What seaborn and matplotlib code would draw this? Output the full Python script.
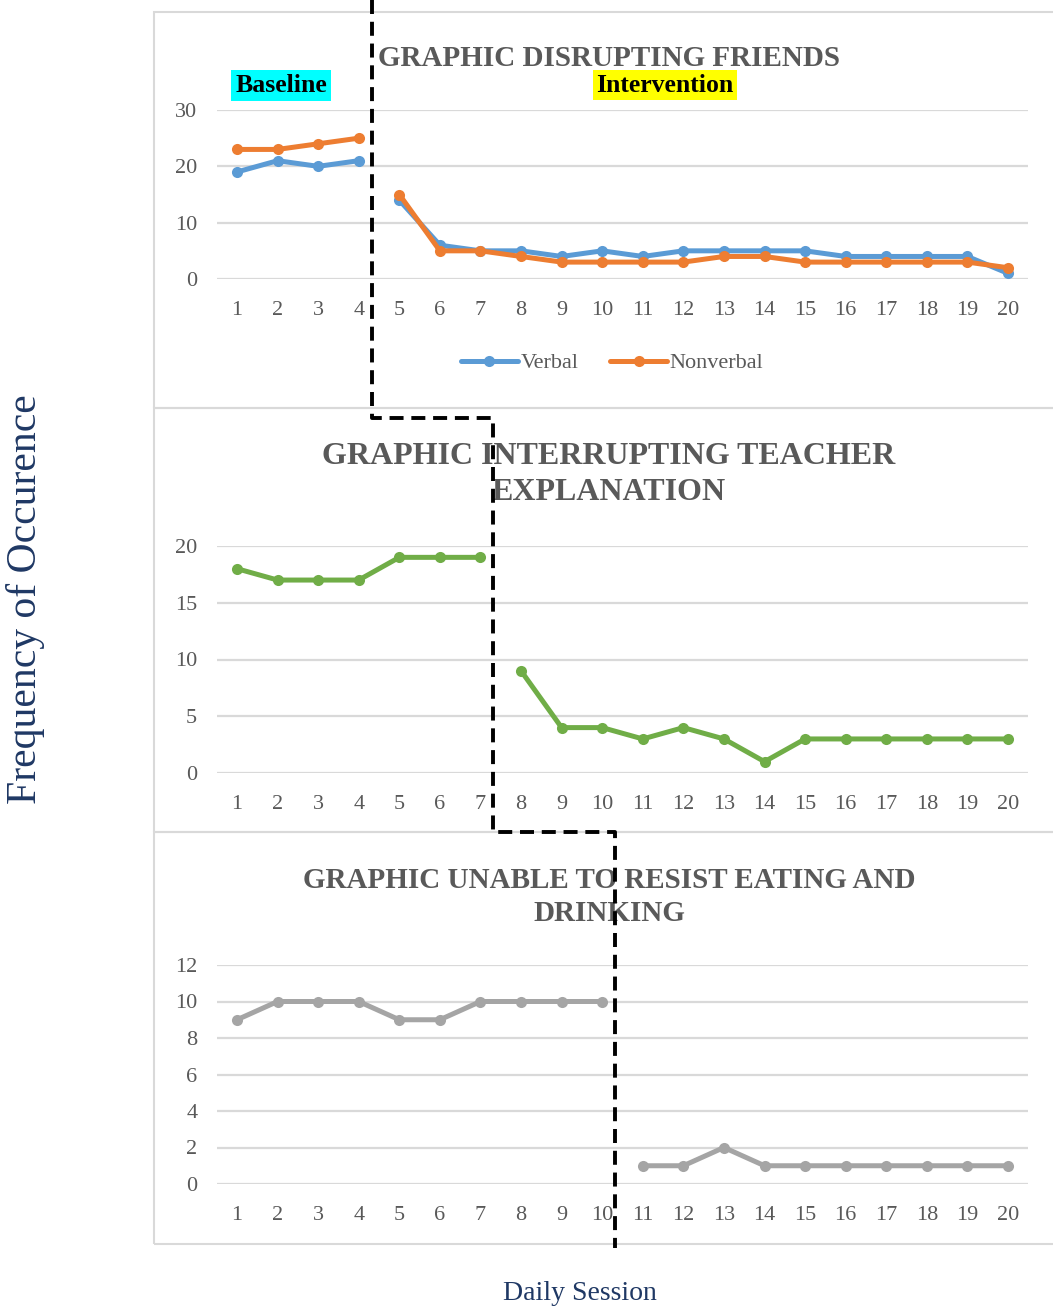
import numpy as np
import pandas as pd
import matplotlib
matplotlib.use("Agg")
import matplotlib.pyplot as plt
from matplotlib.lines import Line2D
from matplotlib.patches import Rectangle
import seaborn as sns

# ---------------- data ----------------
sessions = list(range(1, 21))
verbal = [19, 21, 20, 21, 14, 6, 5, 5, 4, 5, 4, 5, 5, 5, 5, 4, 4, 4, 4, 1]
nonverbal = [23, 23, 24, 25, 15, 5, 5, 4, 3, 3, 3, 3, 4, 4, 3, 3, 3, 3, 3, 2]
interrupting = [18, 17, 17, 17, 19, 19, 19, 9, 4, 4, 3, 4, 3, 1, 3, 3, 3, 3, 3, 3]
eating = [9, 10, 10, 10, 9, 9, 10, 10, 10, 10, 1, 1, 2, 1, 1, 1, 1, 1, 1, 1]
baseline_end = [4, 7, 10]   # last baseline session per panel
titles = ["GRAPHIC DISRUPTING FRIENDS",
          "GRAPHIC INTERRUPTING TEACHER\nEXPLANATION",
          "GRAPHIC UNABLE TO RESIST EATING AND\nDRINKING"]
y_ticks = [[0, 10, 20, 30], [0, 5, 10, 15, 20], [0, 2, 4, 6, 8, 10, 12]]
y_label = "Frequency of Occurence"
x_label = "Daily Session"
phase_labels = ["Baseline", "Intervention"]

C_VERBAL = "#5B9BD5"
C_NONVERBAL = "#ED7D31"
C_GREEN = "#70AD47"
C_GRAY = "#A5A5A5"
TXT = "#595959"
NAVY = "#1F3864"
GRID = "#D9D9D9"


def make_df(series):
    rows = []
    for name, vals, end in series:
        for s, v in zip(sessions, vals):
            rows.append(dict(session=s, value=v, series=name,
                             phase="base" if s <= end else "int"))
    return pd.DataFrame(rows)


sns.set_theme(style="white")
plt.rcParams["font.family"] = ["Liberation Serif", "DejaVu Serif"]

W, H = 1053, 1307
fig = plt.figure(figsize=(W / 100, H / 100), dpi=100)


def fx(px):
    return px / W


def fy(py):
    return 1 - py / H


# panel frames
for top, bot in [(12, 408), (408, 832), (832, 1244)]:
    fig.add_artist(Rectangle((fx(154), fy(bot)), fx(1060) - fx(154), fy(top) - fy(bot),
                             transform=fig.transFigure, fill=False, ec=GRID, lw=1.5))

ax_px = [(110, 279, 30), (546, 773, 20), (965, 1184, 12)]
left, right = 216.7, 1028.3

panel_series = [
    [("Verbal", verbal, baseline_end[0]), ("Nonverbal", nonverbal, baseline_end[0])],
    [("Interrupting", interrupting, baseline_end[1])],
    [("Eating", eating, baseline_end[2])],
]
palettes = [{"Verbal": C_VERBAL, "Nonverbal": C_NONVERBAL},
            {"Interrupting": C_GREEN}, {"Eating": C_GRAY}]

LW = 3.6
MS = 8

axes = []
for i, (tp, bp, ymax) in enumerate(ax_px):
    ax = fig.add_axes([fx(left), fy(bp), fx(right) - fx(left), fy(tp) - fy(bp)])
    df = make_df(panel_series[i])
    sns.lineplot(data=df, x="session", y="value", hue="series", units="phase",
                 estimator=None, palette=palettes[i], marker="o", markersize=MS,
                 markeredgewidth=0, linewidth=LW, legend=False, ax=ax, zorder=3)
    ax.set_xlim(0.5, 20.5)
    ax.set_ylim(0, ymax)
    ax.set_xticks(sessions)
    ax.set_xticklabels([str(s) for s in sessions])
    ax.set_yticks(y_ticks[i])
    ax.set_xlabel("")
    ax.set_ylabel("")
    for sp in ax.spines.values():
        sp.set_visible(False)
    ax.grid(axis="y", color=GRID, lw=1.6)
    ax.grid(axis="x", visible=False)
    ax.set_axisbelow(True)
    ax.tick_params(axis="both", length=0, labelsize=16, colors=TXT)
    ax.tick_params(axis="y", pad=14)
    ax.tick_params(axis="x", pad=15.5)
    for ln in ax.lines:
        ln.set_clip_on(False)
    axes.append(ax)

# titles
fig.text(fx(609), fy(45), titles[0], ha="center", va="top", fontsize=21,
         fontweight="bold", color=TXT)
fig.text(fx(609), fy(442), titles[1], ha="center", va="top", fontsize=23,
         fontweight="bold", color=TXT, linespacing=1.3)
fig.text(fx(609), fy(867), titles[2], ha="center", va="top", fontsize=21,
         fontweight="bold", color=TXT, linespacing=1.3)

# phase labels
fig.text(fx(281), fy(85.5), phase_labels[0], ha="center", va="center", fontsize=18.5,
         fontweight="bold", color="black",
         bbox=dict(boxstyle="square,pad=0.15", fc="#00FFFF", ec="none"))
fig.text(fx(665), fy(85), phase_labels[1], ha="center", va="center", fontsize=18.5,
         fontweight="bold", color="black",
         bbox=dict(boxstyle="square,pad=0.12", fc="#FFFF00", ec="none"))

# legend
handles = [Line2D([], [], color=C_VERBAL, lw=LW, marker="o", markersize=MS, markeredgewidth=0),
           Line2D([], [], color=C_NONVERBAL, lw=LW, marker="o", markersize=MS, markeredgewidth=0)]
leg = fig.legend(handles, ["Verbal", "Nonverbal"], loc="center",
                 bbox_to_anchor=(fx(612), fy(363)), ncol=2, frameon=False,
                 fontsize=16, handlelength=2.6, handletextpad=0.1, columnspacing=1.4)
for t in leg.get_texts():
    t.set_color(TXT)

# axis labels
fig.text(fx(26), fy(599), y_label, rotation=90, ha="center", va="center",
         fontsize=30, color=NAVY)
fig.text(fx(580), fy(1293), x_label, ha="center", va="center", fontsize=20, color=NAVY)

# phase-change dashed step line
inv = fig.transFigure.inverted()
xs_px = []
for ax, end in zip(axes, baseline_end):
    xd = ax.transData.transform((end + 0.32, 0))[0]
    xs_px.append(inv.transform((xd, 0))[0])
ys = [fy(0), fy(418), fy(418), fy(832), fy(832), fy(1248)]
xs = [xs_px[0], xs_px[0], xs_px[1], xs_px[1], xs_px[2], xs_px[2]]
fig.add_artist(Line2D(xs, ys, transform=fig.transFigure, color="black", lw=2.8,
                      linestyle=(0, (3.6, 2.0)), zorder=10))

fig.savefig("out.png", dpi=100)
